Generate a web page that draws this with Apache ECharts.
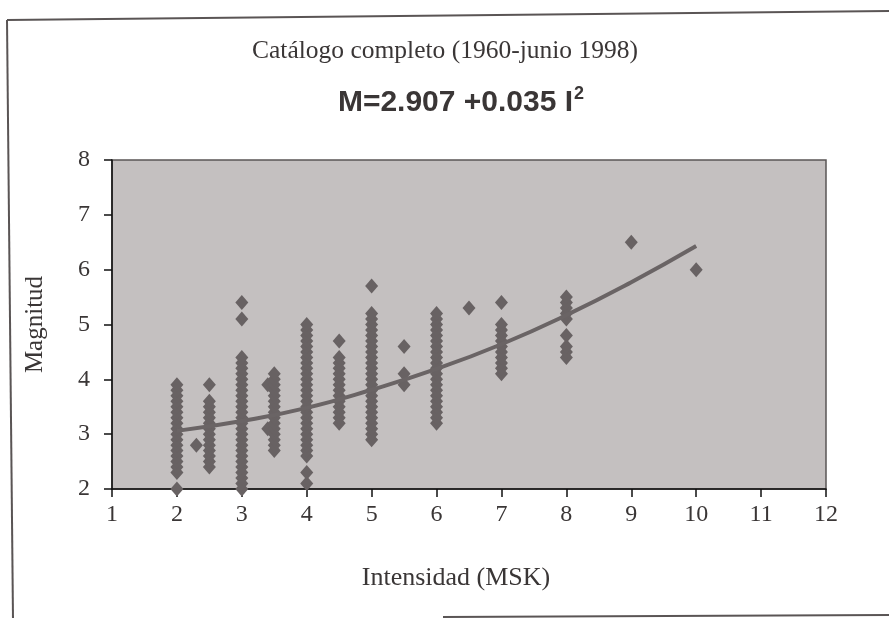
<!DOCTYPE html>
<html>
<head>
<meta charset="utf-8">
<script src="https://cdn.jsdelivr.net/npm/echarts@6/dist/echarts.min.js"></script>
<style>
  html, body { margin: 0; padding: 0; background: #ffffff; }
  #chart { width: 889px; height: 618px; }
</style>
</head>
<body>
<div id="chart"></div>
<script>
// ---- Data ----
const titleText = 'Catálogo completo (1960-junio 1998)';
const formulaMain = 'M=2.907 +0.035 I';
const formulaSup = '2';
const xAxisName = 'Intensidad (MSK)';
const yAxisName = 'Magnitud';

const xTicks = [1, 2, 3, 4, 5, 6, 7, 8, 9, 10, 11, 12];
const yTicks = [2, 3, 4, 5, 6, 7, 8];

// intensity of each column of observations
const intensities = [2, 2.3, 2.5, 3, 3.4, 3.5, 4, 4.5, 5, 5.5, 6, 6.5, 7, 8, 9, 10];
// magnitudes observed at each intensity (same order as intensities)
const magI2   = [2.0, 2.3, 2.4, 2.5, 2.6, 2.7, 2.8, 2.9, 3.0, 3.1, 3.2, 3.3, 3.4, 3.5, 3.6, 3.7, 3.8, 3.9];
const magI23  = [2.8];
const magI25  = [2.4, 2.5, 2.6, 2.7, 2.8, 2.9, 3.0, 3.1, 3.2, 3.3, 3.4, 3.5, 3.6, 3.9];
const magI3   = [2.0, 2.1, 2.2, 2.3, 2.4, 2.5, 2.6, 2.7, 2.8, 2.9, 3.0, 3.1, 3.2, 3.3, 3.4, 3.5, 3.6, 3.7, 3.8, 3.9, 4.0, 4.1, 4.2, 4.3, 4.4, 5.1, 5.4];
const magI34  = [3.1, 3.9];
const magI35  = [2.7, 2.8, 2.9, 3.0, 3.1, 3.2, 3.3, 3.4, 3.5, 3.6, 3.7, 3.8, 3.9, 4.0, 4.1];
const magI4   = [2.1, 2.3, 2.6, 2.7, 2.8, 2.9, 3.0, 3.1, 3.2, 3.3, 3.4, 3.5, 3.6, 3.7, 3.8, 3.9, 4.0, 4.1, 4.2, 4.3, 4.4, 4.5, 4.6, 4.7, 4.8, 4.9, 5.0];
const magI45  = [3.2, 3.3, 3.4, 3.5, 3.6, 3.7, 3.8, 3.9, 4.0, 4.1, 4.2, 4.3, 4.4, 4.7];
const magI5   = [2.9, 3.0, 3.1, 3.2, 3.3, 3.4, 3.5, 3.6, 3.7, 3.8, 3.9, 4.0, 4.1, 4.2, 4.3, 4.4, 4.5, 4.6, 4.7, 4.8, 4.9, 5.0, 5.1, 5.2, 5.7];
const magI55  = [3.9, 4.1, 4.6];
const magI6   = [3.2, 3.3, 3.4, 3.5, 3.6, 3.7, 3.8, 3.9, 4.0, 4.1, 4.2, 4.3, 4.4, 4.5, 4.6, 4.7, 4.8, 4.9, 5.0, 5.1, 5.2];
const magI65  = [5.3];
const magI7   = [4.1, 4.2, 4.3, 4.4, 4.5, 4.6, 4.7, 4.8, 4.9, 5.0, 5.4];
const magI8   = [4.4, 4.5, 4.6, 4.8, 5.1, 5.2, 5.3, 5.4, 5.5];
const magI9   = [6.5];
const magI10  = [6.0];
const magnitudes = [magI2, magI23, magI25, magI3, magI34, magI35, magI4, magI45, magI5, magI55, magI6, magI65, magI7, magI8, magI9, magI10];

// fitted curve
const trendI = [2, 3, 4, 5, 6, 7, 8, 9, 10];
const trendM = [3.06, 3.24, 3.48, 3.81, 4.19, 4.64, 5.17, 5.77, 6.43];

// ---- Build series data ----
const scatterData = [];
intensities.forEach(function (x, i) {
  magnitudes[i].forEach(function (m) { scatterData.push([x, m]); });
});
const trendData = trendI.map(function (x, i) { return [x, trendM[i]]; });

const chart = echarts.init(document.getElementById('chart'), null, { renderer: 'canvas' });

const serif = '"Liberation Serif", "Times New Roman", serif';
const sans = '"Liberation Sans", Arial, sans-serif';
const textColor = '#3a3636';

chart.setOption({
  backgroundColor: '#ffffff',
  animation: false,
  title: [
    {
      text: titleText,
      left: 440, top: 33, textAlign: 'center',
      textStyle: { fontFamily: serif, fontSize: 25.5, fontWeight: 'normal', color: textColor }
    },
    {
      text: '{a|' + formulaMain + '}{s|' + formulaSup + '}',
      left: 456, top: 80, textAlign: 'center',
      textStyle: {
        rich: {
          a: { fontFamily: sans, fontSize: 30, fontWeight: 'bold', color: textColor, lineHeight: 36 },
          s: { fontFamily: sans, fontSize: 18, fontWeight: 'bold', color: textColor, verticalAlign: 'top', lineHeight: 36, padding: [0, 0, 16, 1] }
        }
      }
    }
  ],
  grid: {
    left: 112, right: 63, top: 160, bottom: 129,
    show: true,
    backgroundColor: '#c4c0c0',
    borderColor: '#5a5555',
    borderWidth: 1.5
  },
  xAxis: {
    type: 'value',
    min: xTicks[0], max: xTicks[xTicks.length - 1], interval: 1,
    name: xAxisName,
    nameLocation: 'middle',
    nameGap: 76,
    nameTextStyle: { fontFamily: serif, fontSize: 26, color: textColor, padding: [0, 26, 0, 0] },
    axisLine: { show: true, onZero: false, lineStyle: { color: '#111', width: 1.5 } },
    axisTick: { show: true, inside: false, length: 8, lineStyle: { color: '#111', width: 1.5 } },
    axisLabel: { fontFamily: serif, fontSize: 24, color: textColor, margin: 14 },
    splitLine: { show: false }
  },
  yAxis: {
    type: 'value',
    min: yTicks[0], max: yTicks[yTicks.length - 1], interval: 1,
    name: yAxisName,
    nameLocation: 'middle',
    nameGap: 64,
    nameRotate: 90,
    nameTextStyle: { fontFamily: serif, fontSize: 25, color: textColor },
    axisLine: { show: true, onZero: false, lineStyle: { color: '#111', width: 1.5 } },
    axisTick: { show: true, inside: false, length: 8, lineStyle: { color: '#111', width: 1.5 } },
    axisLabel: { fontFamily: serif, fontSize: 24, color: textColor, margin: 22 },
    splitLine: { show: false }
  },
  graphic: [
    { type: 'line', shape: { x1: 7, y1: 20, x2: 13, y2: 618 }, style: { stroke: '#5a5555', lineWidth: 2 } },
    { type: 'line', shape: { x1: 7, y1: 20, x2: 889, y2: 11 }, style: { stroke: '#5a5555', lineWidth: 2 } },
    { type: 'line', shape: { x1: 443, y1: 617, x2: 889, y2: 615 }, style: { stroke: '#5a5555', lineWidth: 2 } }
  ],
  series: [
    {
      type: 'scatter',
      data: scatterData,
      symbol: 'diamond',
      symbolSize: [13, 15],
      itemStyle: { color: '#686263', opacity: 1 },
      z: 3
    },
    {
      type: 'line',
      data: trendData,
      smooth: true,
      showSymbol: false,
      symbol: 'none',
      lineStyle: { color: '#6a6465', width: 4 },
      z: 4
    }
  ]
});
</script>
</body>
</html>
